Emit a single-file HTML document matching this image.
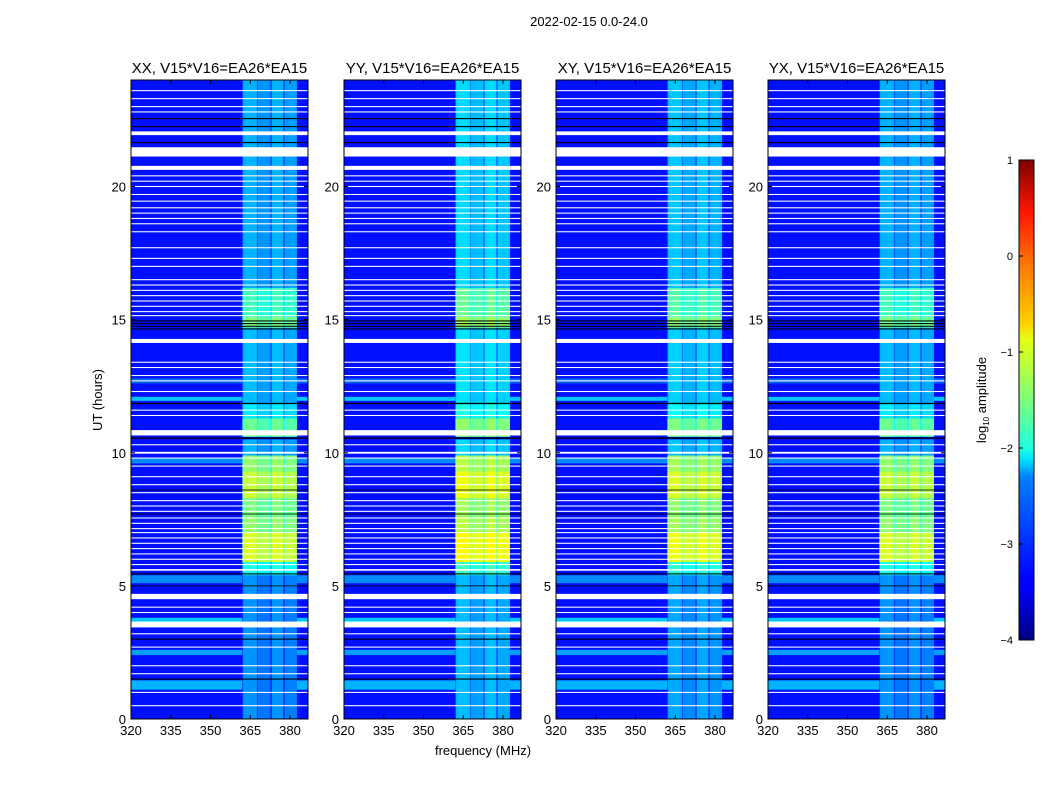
<!DOCTYPE html>
<html><head><meta charset="utf-8">
<style>
html,body{margin:0;padding:0;background:#fff;}
svg text{font-family:"Liberation Sans",sans-serif;fill:#000;}
</style></head>
<body>
<svg id="fig" width="1050" height="800" viewBox="0 0 1050 800" xmlns="http://www.w3.org/2000/svg">
<defs>
<linearGradient id="jet" x1="0" y1="1" x2="0" y2="0">
<stop offset="0" stop-color="#00007f"/><stop offset="0.11" stop-color="#0000ff"/>
<stop offset="0.125" stop-color="#0000ff"/><stop offset="0.34" stop-color="#0080ff"/>
<stop offset="0.375" stop-color="#00e0ff"/><stop offset="0.4" stop-color="#1fffe0"/>
<stop offset="0.5" stop-color="#7dff7a"/><stop offset="0.625" stop-color="#e4ff13"/>
<stop offset="0.66" stop-color="#ffd200"/><stop offset="0.8" stop-color="#ff6800"/>
<stop offset="0.89" stop-color="#ff1600"/><stop offset="1" stop-color="#7f0000"/>
</linearGradient>
</defs>
<text x="589" y="26" font-size="13" text-anchor="middle">2022-02-15 0.0-24.0</text>
<g id="panels"></g>
<text transform="translate(102,400) rotate(-90)" font-size="13" text-anchor="middle">UT (hours)</text>
<text x="483" y="755" font-size="13" text-anchor="middle">frequency (MHz)</text>
<g>
<rect x="1019" y="160" width="15" height="480" fill="url(#jet)" stroke="#000" stroke-width="1"/>
<g id="cbticks"></g>
<text transform="translate(986,400) rotate(-90)" font-size="13" text-anchor="middle">log<tspan font-size="8" dy="3">10</tspan><tspan dy="-3"> amplitude</tspan></text>
</g>
</svg>
<script>
// ---- data ----
const panelTitles = ["XX, V15*V16=EA26*EA15","YY, V15*V16=EA26*EA15","XY, V15*V16=EA26*EA15","YX, V15*V16=EA26*EA15"];
const polOffsets = [0, 0.2, 0.1, 0];
const xTicks = [320,335,350,365,380];
const yTicks = [0,5,10,15,20];
const cbTicks = [1,0,-1,-2,-3,-4];
const baseLevel = -3.3;
// broadband brighter rows: [t0,t1,level]
const broadRows = [[1.1,1.45,-2.5],[2.4,2.6,-2.6],[3.6,3.8,-2.4],[5.1,5.4,-2.7],[11.95,12.1,-2.4],[12.6,12.8,-2.9],[9.6,9.8,-2.7]];
// RFI region time segments: [t0,t1,level]
const rfiSegs = [[0,5.4,-2.65],[5.4,5.9,-2.0],[5.9,7.0,-1.05],[7.0,7.6,-1.4],[7.6,8.3,-1.5],[8.3,9.3,-1.15],[9.3,9.9,-1.4],[9.9,10.5,-2.5],[10.6,11.3,-1.6],[11.3,11.9,-2.2],[11.9,14.7,-2.45],[14.7,15.1,-1.5],[15.1,16.2,-1.8],[16.2,24,-2.5]];
// RFI sub-blocks: [f0,f1,offset]
const rfiBlocks = [[362.3,367.5,0],[367.9,372.5,-0.15],[373.2,377.4,0],[378.1,382.6,-0.1]];
const rfiRange = [362,382.6];
const rfiGapOffset = -0.45;
// white (flagged) rows: [t, thickness hours]
const whiteRows = [[23.6,0.04],[23.3,0.04],[23.0,0.04],[22.8,0.04],[22.0,0.14],[21.3,0.35],[20.7,0.15],[20.4,0.04],[20.2,0.04],[20.0,0.04],[19.7,0.04],[19.45,0.04],[19.2,0.04],[19.0,0.04],[18.8,0.04],[18.6,0.04],[18.3,0.04],[17.7,0.04],[17.3,0.04],[17.0,0.04],[16.5,0.04],[16.3,0.04],[16.1,0.04],[15.9,0.04],[15.7,0.04],[15.5,0.04],[15.3,0.04],[15.15,0.04],[14.2,0.15],[13.4,0.04],[13.2,0.04],[12.9,0.04],[12.7,0.04],[12.3,0.04],[11.6,0.04],[11.4,0.04],[10.75,0.2],[10.3,0.04],[10.0,0.07],[9.8,0.04],[9.5,0.04],[9.1,0.04],[8.8,0.04],[8.5,0.04],[8.2,0.04],[8.0,0.04],[7.8,0.04],[7.55,0.04],[7.35,0.04],[7.15,0.04],[7.0,0.04],[6.8,0.04],[6.6,0.04],[6.4,0.04],[6.2,0.04],[6.0,0.04],[5.8,0.04],[5.6,0.06],[4.6,0.2],[4.2,0.04],[4.0,0.04],[3.55,0.22],[3.2,0.04],[2.7,0.04],[2.0,0.04],[1.7,0.04],[1.0,0.04],[0.5,0.04]];
// black rows: [t, thickness hours]
const blackRows = [[22.55,0.04],[22.25,0.04],[21.65,0.04],[14.95,0.04],[14.85,0.04],[14.75,0.04],[14.65,0.04],[11.85,0.05],[10.55,0.05],[5.45,0.04],[5.0,0.03],[3.0,0.04],[1.5,0.04],[8.6,0.03],[7.7,0.03]];

// ---- geometry ----
const lefts=[131,344,556,768], W=177, TOP=80, H=639, FMIN=320, FMAX=320+177/2.65, TMAX=24;
function jet(v){
  let t=Math.max(0,Math.min(1,(v+4)/5));
  const r=Math.max(0,Math.min(1,1.5-Math.abs(4*t-3)));
  const g=Math.max(0,Math.min(1,1.5-Math.abs(4*t-2)));
  const b=Math.max(0,Math.min(1,1.5-Math.abs(4*t-1)));
  return `rgb(${Math.round(r*255)},${Math.round(g*255)},${Math.round(b*255)})`;
}
const NS="http://www.w3.org/2000/svg";
function mk(tag,attrs,parent){const e=document.createElementNS(NS,tag);for(const k in attrs)e.setAttribute(k,attrs[k]);parent.appendChild(e);return e;}
const panelsG=document.getElementById('panels');
lefts.forEach((L,pi)=>{
  const xs=f=>L+(f-FMIN)/(FMAX-FMIN)*W;
  const ys=t=>TOP+H-(t/TMAX)*H;
  const off=polOffsets[pi];
  const g=mk('g',{},panelsG);
  
  
  const hm=mk('g',{},g);
  
  
  let r=mk('rect',{x:L,y:TOP,width:W,height:H,fill:jet(baseLevel)},hm);
  
  
  broadRows.forEach(b=>{
    const e=mk('rect',{x:L,y:ys(b[1]),width:W,height:ys(b[0])-ys(b[1]),fill:jet(b[2])},hm);
    
    
  });
  rfiSegs.forEach(s=>{
    const y0=ys(s[1]),h=ys(s[0])-ys(s[1]);
    const e=mk('rect',{x:xs(rfiRange[0]),y:y0,width:xs(rfiRange[1])-xs(rfiRange[0]),height:h,fill:jet(s[2]+off+rfiGapOffset)},hm);
    
    
    rfiBlocks.forEach(bk=>{
      const c=mk('rect',{x:xs(bk[0]),y:y0,width:xs(bk[1])-xs(bk[0]),height:h,fill:jet(s[2]+off+bk[2])},hm);
      
      
    });
  });
  whiteRows.forEach(w=>{
    const e=mk('rect',{x:L,y:ys(w[0]+w[1]/2),width:W,height:Math.max(1,ys(0)-ys(w[1])),fill:'#fff'},hm);
    
    
  });
  blackRows.forEach(w=>{
    const e=mk('rect',{x:L,y:ys(w[0]+w[1]/2),width:W,height:Math.max(0.8,ys(0)-ys(w[1])),fill:'#000'},hm);
    
    
  });
  const fr=mk('rect',{x:L,y:TOP,width:W,height:H,fill:'none',stroke:'#000','stroke-width':1},g);
  
  
  const tt=mk('text',{x:L+W/2,y:73,'font-size':15,'text-anchor':'middle'},g);
  tt.textContent=panelTitles[pi];
  
  
  xTicks.forEach(f=>{
    const x=xs(f);
    mk('line',{x1:x,y1:TOP+H,x2:x,y2:TOP+H-4,stroke:'#000'},g);
    mk('line',{x1:x,y1:TOP,x2:x,y2:TOP+4,stroke:'#000'},g);
    const t=mk('text',{x:x,y:TOP+H+16,'font-size':13,'text-anchor':'middle'},g);
    t.textContent=f;
    
    
  });
  yTicks.forEach(v=>{
    const y=ys(v);
    mk('line',{x1:L,y1:y,x2:L+4,y2:y,stroke:'#000'},g);
    mk('line',{x1:L+W,y1:y,x2:L+W-4,y2:y,stroke:'#000'},g);
    const t=mk('text',{x:L-5,y:y+5,'font-size':13,'text-anchor':'end'},g);
    t.textContent=v;
    
    
  });
});
const cbg=document.getElementById('cbticks');
cbTicks.forEach(v=>{
  const y=640-(v+4)/5*480;
  mk('line',{x1:1019,y1:y,x2:1023,y2:y,stroke:'#000'},cbg);
  const t=mk('text',{x:1013,y:y+4,'font-size':11,'text-anchor':'end'},cbg);
  t.textContent=(v<0?'\u2212'+(-v):String(v));
  
  
});
</script>
</body></html>
